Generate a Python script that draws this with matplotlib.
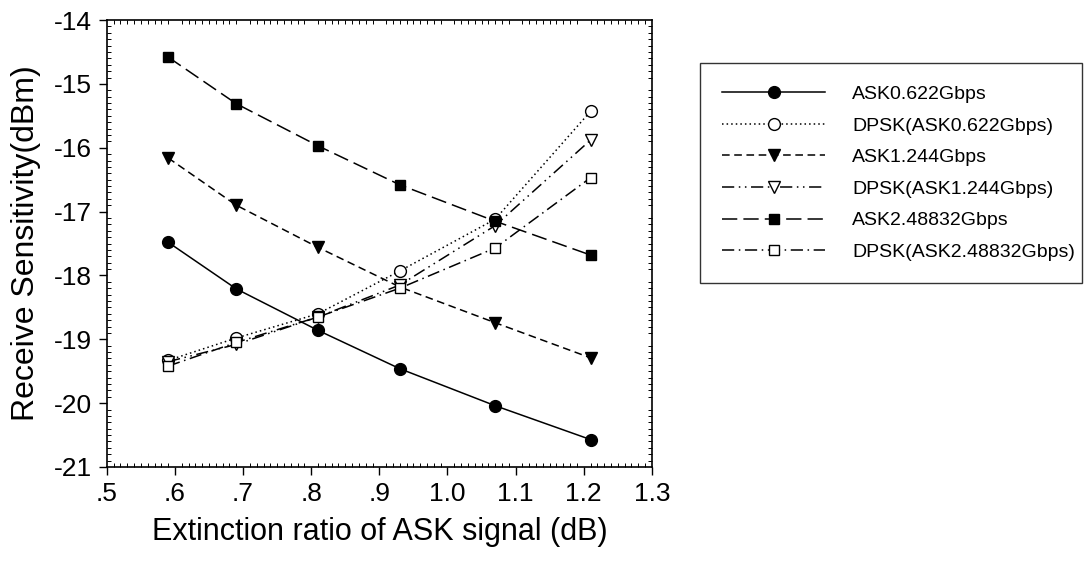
"""Receive sensitivity vs extinction ratio of the ASK signal."""

import matplotlib
matplotlib.use('Agg')
import matplotlib.pyplot as plt
from matplotlib.ticker import MultipleLocator, FixedLocator

plt.rcParams['font.family'] = ['Liberation Sans', 'DejaVu Sans']
plt.rcParams['axes.unicode_minus'] = False

# Data ------------------------------------------------------------------------

extinction = [0.59, 0.69, 0.81, 0.93, 1.07, 1.21]

ask_0622 = [-17.48, -18.21, -18.86, -19.46, -20.04, -20.57]
dpsk_0622 = [-19.33, -18.98, -18.60, -17.93, -17.12, -15.43]
ask_1244 = [-16.16, -16.90, -17.56, -18.18, -18.74, -19.29]
dpsk_1244 = [-19.35, -19.08, -18.65, -18.15, -17.22, -15.88]
ask_2488 = [-14.58, -15.31, -15.97, -16.58, -17.15, -17.68]
dpsk_2488 = [-19.42, -19.05, -18.65, -18.20, -17.57, -16.47]

labels = [
    'ASK0.622Gbps',
    'DPSK(ASK0.622Gbps)',
    'ASK1.244Gbps',
    'DPSK(ASK1.244Gbps)',
    'ASK2.48832Gbps',
    'DPSK(ASK2.48832Gbps)',
]

xticks = [0.5, 0.6, 0.7, 0.8, 0.9, 1.0, 1.1, 1.2, 1.3]
xticklabels = ['.5', '.6', '.7', '.8', '.9', '1.0', '1.1', '1.2', '1.3']
yticks = [-21, -20, -19, -18, -17, -16, -15, -14]

# Styles -----------------------------------------------------------------------

series = [ask_0622, dpsk_0622, ask_1244, dpsk_1244, ask_2488, dpsk_2488]

styles = [
    dict(ls='-', marker='o', mfc='black', ms=8.5),
    dict(ls=(0, (1, 2)), marker='o', mfc='white', ms=8.5),
    dict(ls=(0, (5, 3)), marker='v', mfc='black', ms=9),
    dict(ls=(0, (8, 3, 1, 3, 1, 3)), marker='v', mfc='white', ms=9),
    dict(ls=(0, (10, 4)), marker='s', mfc='black', ms=7.5),
    dict(ls=(0, (8, 3, 1, 3)), marker='s', mfc='white', ms=7.5),
]

# Plot -------------------------------------------------------------------------

fig = plt.figure(figsize=(10.9, 5.73), dpi=100)
ax = fig.add_axes([0.098, 0.185, 0.500, 0.780])

handles = []
for data, style, label in zip(series, styles, labels):
    line, = ax.plot(extinction, data, color='black', lw=1.1, mec='black',
                    mew=1.0, label=label, **style)
    handles.append(line)

ax.set_xlim(0.5, 1.3)
ax.set_ylim(-21, -14)
ax.xaxis.set_major_locator(FixedLocator(xticks))
ax.set_xticklabels(xticklabels)
ax.yaxis.set_major_locator(FixedLocator(yticks))
ax.xaxis.set_minor_locator(MultipleLocator(0.01))
ax.yaxis.set_minor_locator(MultipleLocator(0.1))

ax.tick_params(which='major', direction='out', length=6, width=1.0,
               labelsize=19, pad=5)
ax.tick_params(which='minor', direction='in', length=3, width=0.7,
               top=True, right=True)
ax.tick_params(which='major', top=False, right=False)

for spine in ax.spines.values():
    spine.set_linewidth(1.2)

ax.set_xlabel('Extinction ratio of ASK signal (dB)', fontsize=22, labelpad=8)
ax.set_ylabel('Receive Sensitivity(dBm)', fontsize=23, labelpad=9)

leg = fig.legend(handles=handles, loc='upper left',
                 bbox_to_anchor=(0.642, 0.502, 0.351, 0.388), mode='expand',
                 frameon=True, fancybox=False, edgecolor='black',
                 handlelength=5.3, handletextpad=1.4, labelspacing=0.72,
                 borderpad=1.15, borderaxespad=0,
                 prop={'size': 14})
leg.get_frame().set_linewidth(1.0)

fig.savefig('out.png', dpi=100)
